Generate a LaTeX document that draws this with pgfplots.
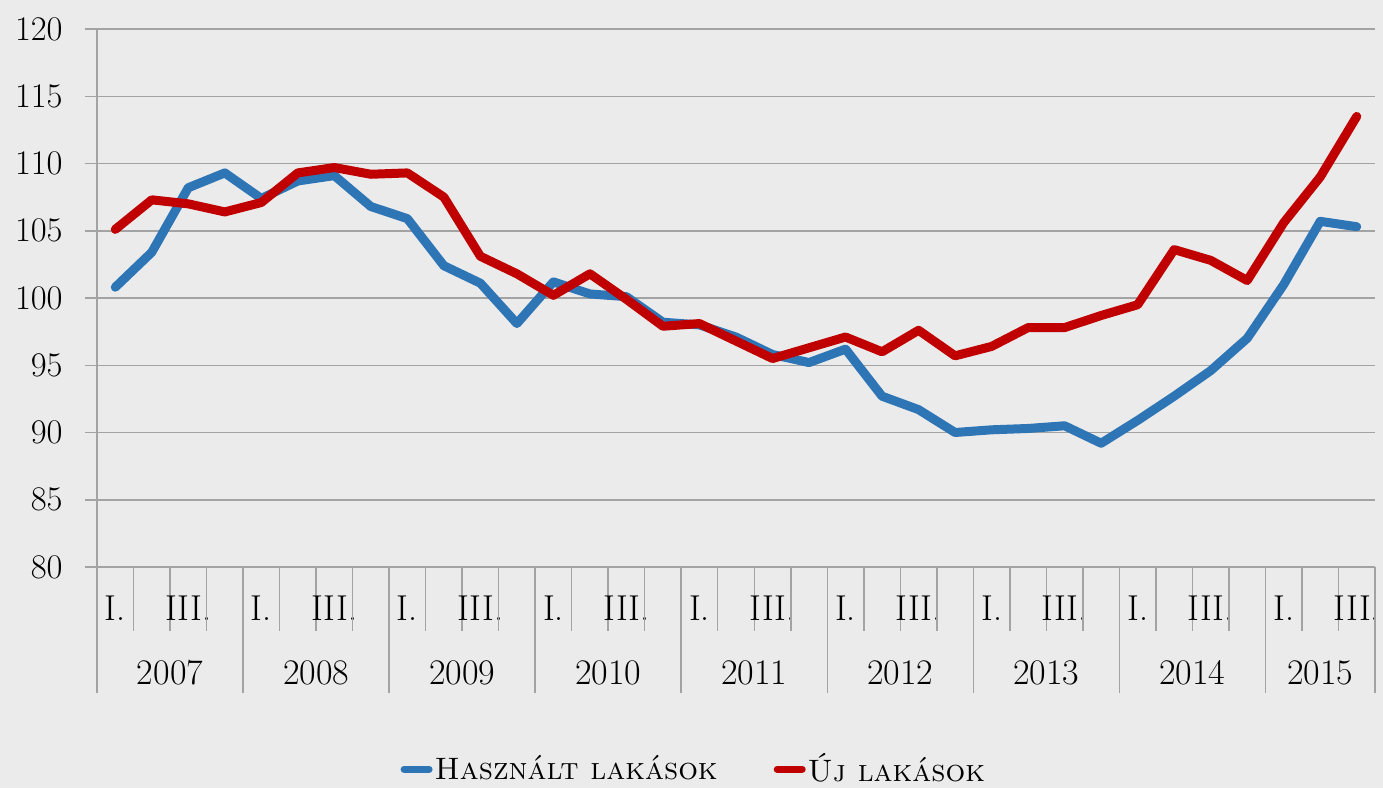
\documentclass[border=0pt]{standalone}
\usepackage{fontspec}
\usepackage{pgfplots}
\pgfplotsset{compat=1.18}
\definecolor{bgc}{HTML}{EBEBEB}
\definecolor{gridc}{HTML}{A3A3A3}
\definecolor{hBlue}{HTML}{2E75B6}
\definecolor{uRed}{HTML}{C00000}
\newcommand{\lblfont}{\fontsize{18}{20}\selectfont}

\begin{document}
\begin{tikzpicture}
\fill[bgc] (0,0) rectangle (691.5pt,394pt);
\useasboundingbox (0,0) rectangle (691.5pt,394pt);
\begin{axis}[
    at={(48.5pt,110.5pt)}, anchor=south west,
    scale only axis, width=639pt, height=269pt,
    xmin=-0.5, xmax=34.5, ymin=80, ymax=120,
    xtick=\empty, ytick={80,85,...,120},
    axis lines=left, axis line style={gridc, line width=0.75pt, -},
    tick align=outside, major tick length=6pt,
    ytick style={gridc, line width=0.75pt},
    ymajorgrids, grid style={gridc, line width=0.75pt},
    yticklabel style={font=\lblfont, inner sep=0pt, xshift=-11pt},
    clip=false,
    legend columns=2,
    legend style={at={(0.467,-0.376)}, anchor=center, draw=none, fill=none,
      font=\fontsize{15.5}{17}\selectfont\scshape, inner sep=0pt,
      nodes={inner sep=1pt},
      /tikz/every even column/.append style={column sep=27pt}},
    legend image code/.code={\draw[#1, line width=3.5pt, line cap=round]
      (1.75pt,0pt) -- (14.25pt,0pt);},
    every axis plot/.append style={line width=4.5pt, line join=round, line cap=round},
  ]
  \addplot[hBlue] coordinates {
    (0,100.8) (1,103.4) (2,108.2) (3,109.3) (4,107.4) (5,108.7) (6,109.1)
    (7,106.8) (8,105.9) (9,102.4) (10,101.1) (11,98.1) (12,101.2) (13,100.3)
    (14,100.1) (15,98.2) (16,98.0) (17,97.1) (18,95.8) (19,95.2) (20,96.2)
    (21,92.7) (22,91.7) (23,90.0) (24,90.2) (25,90.3) (26,90.5) (27,89.2)
    (28,90.9) (29,92.7) (30,94.6) (31,97.0) (32,101.0) (33,105.7) (34,105.3)};
  \addlegendentry{Használt lakások}
  \addplot[uRed] coordinates {
    (0,105.1) (1,107.3) (2,107.0) (3,106.4) (4,107.1) (5,109.3) (6,109.7)
    (7,109.2) (8,109.3) (9,107.5) (10,103.1) (11,101.8) (12,100.2) (13,101.8)
    (14,99.9) (15,97.9) (16,98.1) (17,96.8) (18,95.5) (19,96.3) (20,97.1)
    (21,96.0) (22,97.6) (23,95.7) (24,96.4) (25,97.8) (26,97.8) (27,98.7)
    (28,99.5) (29,103.6) (30,102.8) (31,101.3) (32,105.6) (33,109.0) (34,113.5)};
  \addlegendentry{Új lakások}
  % quarter and year separators below the axis
  \pgfplotsinvokeforeach{0,...,8}{
    \draw[gridc, line width=0.75pt] (axis cs:4*#1-0.5,80) -- ++(0pt,-63pt);
    \draw[gridc, line width=0.75pt] (axis cs:4*#1+0.5,80) -- ++(0pt,-32pt);
    \draw[gridc, line width=0.75pt] (axis cs:4*#1+1.5,80) -- ++(0pt,-32pt);
    \node[font=\lblfont, inner sep=0pt] at (axis cs:4*#1,80) [yshift=-20.5pt] {I.};
    \node[font=\lblfont, inner sep=0pt] at (axis cs:4*#1+2,80) [yshift=-20.5pt] {III.};
  }
  \pgfplotsinvokeforeach{0,...,7}{
    \draw[gridc, line width=0.75pt] (axis cs:4*#1+2.5,80) -- ++(0pt,-32pt);
    \node[font=\lblfont, inner sep=0pt] at (axis cs:4*#1+1.5,80) [yshift=-53pt] {\number\numexpr2007+#1\relax};
  }
  \draw[gridc, line width=0.75pt] (axis cs:34.5,80) -- ++(0pt,-63pt);
  \node[font=\lblfont, inner sep=0pt] at (axis cs:33,80) [yshift=-53pt] {2015};
\end{axis}
\end{tikzpicture}
\end{document}
